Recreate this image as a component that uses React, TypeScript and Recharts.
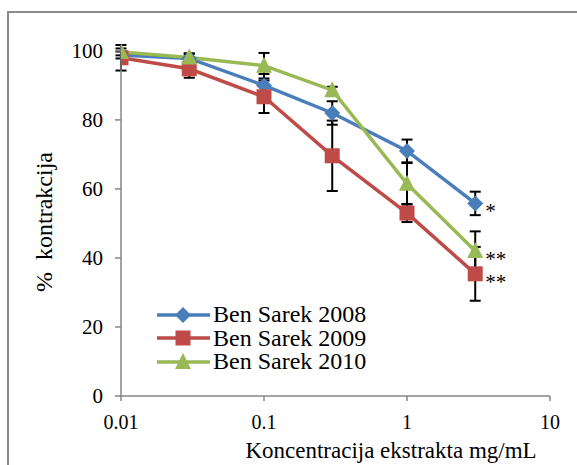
import { LineChart, Line, XAxis, YAxis, ErrorBar, LabelList } from "recharts";

const concentrations = [0.01, 0.03, 0.1, 0.3, 1, 3];
const sarek2008 = [98.8, 97.8, 90, 82, 71, 55.8];
const sarek2008Err = [1, 1.5, 3.3, 3.4, 3.3, 3.4];
const sarek2009 = [98, 94.8, 86.7, 69.6, 53, 35.4];
const sarek2009Err = [3.7, 2.6, 4.7, 10.2, 2.6, 7.8];
const sarek2010 = [99.7, 98.1, 95.7, 88.6, 61.5, 42];
const sarek2010Err = [1, 1, 3.7, 1, 6, 5.7];
const marks2008 = ["", "", "", "", "", "*"];
const marks2009 = ["", "", "", "", "", "**"];
const marks2010 = ["", "", "", "", "", "**"];
const xTicks = [0.01, 0.1, 1, 10];
const yTicks = [0, 20, 40, 60, 80, 100];

const data = concentrations.map((c, i) => ({
  c,
  s2008: sarek2008[i],
  e2008: sarek2008Err[i],
  m2008: marks2008[i],
  s2009: sarek2009[i],
  e2009: sarek2009Err[i],
  m2009: marks2009[i],
  s2010: sarek2010[i],
  e2010: sarek2010Err[i],
  m2010: marks2010[i],
}));

const font = "'Liberation Serif', 'Times New Roman', 'DejaVu Serif', serif";
const axisColor = "#868686";

type Shape = "diamond" | "square" | "triangle";

const series: { key: string; err: string; mark: string; name: string; color: string; shape: Shape }[] = [
  { key: "s2008", err: "e2008", mark: "m2008", name: "Ben Sarek 2008", color: "#4A7EBB", shape: "diamond" },
  { key: "s2009", err: "e2009", mark: "m2009", name: "Ben Sarek 2009", color: "#BE4B48", shape: "square" },
  { key: "s2010", err: "e2010", mark: "m2010", name: "Ben Sarek 2010", color: "#98B954", shape: "triangle" },
];

function Marker({ cx, cy, shape, color }: { cx: number; cy: number; shape: Shape; color: string }) {
  if (cx == null || cy == null) return null;
  if (shape === "diamond") {
    const r = 8;
    return <path d={`M${cx},${cy - r}L${cx + r},${cy}L${cx},${cy + r}L${cx - r},${cy}Z`} fill={color} />;
  }
  if (shape === "square") {
    const h = 7.5;
    return <rect x={cx - h} y={cy - h} width={h * 2} height={h * 2} fill={color} />;
  }
  const h = 8;
  return <path d={`M${cx},${cy - h - 1}L${cx + h},${cy + h - 1}L${cx - h},${cy + h - 1}Z`} fill={color} />;
}

function SigLabel(props: any) {
  const { value } = props;
  if (!value) return null;
  const x = props.x ?? props.viewBox?.x;
  const y = props.y ?? props.viewBox?.y;
  return (
    <text x={x + 10} y={y + 15} fontFamily={font} fontSize={21} fill="#000">
      {value}
    </text>
  );
}

function LegendBox() {
  return (
    <div style={{ fontFamily: font, fontSize: 24, lineHeight: "23.5px", color: "#000" }}>
      {series.map((s) => (
        <div key={s.key} style={{ display: "flex", alignItems: "center", height: 23.5 }}>
          <svg width={58} height={20} style={{ display: "block" }}>
            <line x1={2} y1={10} x2={55} y2={10} stroke={s.color} strokeWidth={3.5} />
            <Marker cx={28} cy={10} shape={s.shape} color={s.color} />
          </svg>
          <span style={{ whiteSpace: "nowrap" }}>{s.name}</span>
        </div>
      ))}
    </div>
  );
}

export default function App() {
  return (
    <div style={{ position: "absolute", left: 0, top: 0, width: 577, height: 465, background: "#fff", overflow: "hidden" }}>
      <div
        style={{
          position: "absolute",
          left: 7,
          top: 11,
          width: 570,
          height: 454,
          borderLeft: "2px solid #8a8a8a",
          borderTop: "2px solid #8a8a8a",
          boxSizing: "border-box",
        }}
      />
      <div style={{ position: "absolute", left: 0, top: 0 }}>
        <LineChart width={577} height={465} data={data} margin={{ top: 45, right: 27, bottom: 19, left: 61 }}>
          <XAxis
            dataKey="c"
            type="number"
            scale="log"
            domain={[0.01, 10]}
            ticks={xTicks}
            allowDataOverflow
            height={50}
            tickSize={5}
            tickMargin={14}
            stroke={axisColor}
            strokeWidth={1.5}
            tickFormatter={(v) => String(v)}
            tick={{ fontFamily: font, fontSize: 20, fill: "#000" }}
          />
          <YAxis
            type="number"
            domain={[0, 100]}
            ticks={yTicks}
            width={60}
            tickSize={6}
            tickMargin={12}
            stroke={axisColor}
            strokeWidth={1.5}
            tick={{ fontFamily: font, fontSize: 21, fill: "#000" }}
          />
          {series.map((s) => (
            <Line
              key={s.key}
              dataKey={s.key}
              name={s.name}
              stroke={s.color}
              strokeWidth={3.5}
              type="linear"
              isAnimationActive={false}
              dot={(p: any) => <Marker key={`${s.key}-${p.index}`} cx={p.cx} cy={p.cy} shape={s.shape} color={s.color} />}
              activeDot={false}
            >
              <ErrorBar dataKey={s.err} direction="y" width={5.5} stroke="#000" strokeWidth={2} />
              <LabelList dataKey={s.mark} content={<SigLabel />} />
            </Line>
          ))}
        </LineChart>
      </div>
      <div style={{ position: "absolute", left: 155, top: 303 }}>
        <LegendBox />
      </div>
      <div
        style={{
          position: "absolute",
          left: 44,
          top: 222,
          transform: "translate(-50%, -50%) rotate(-90deg)",
          fontFamily: font,
          fontSize: 24,
          whiteSpace: "pre",
          color: "#000",
        }}
      >
        {"%  kontrakcija"}
      </div>
      <div
        style={{
          position: "absolute",
          left: 391,
          top: 451,
          transform: "translate(-50%, -50%)",
          fontFamily: font,
          fontSize: 23,
          lineHeight: "24px",
          whiteSpace: "nowrap",
          color: "#000",
        }}
      >
        Koncentracija ekstrakta mg/mL
      </div>
    </div>
  );
}
